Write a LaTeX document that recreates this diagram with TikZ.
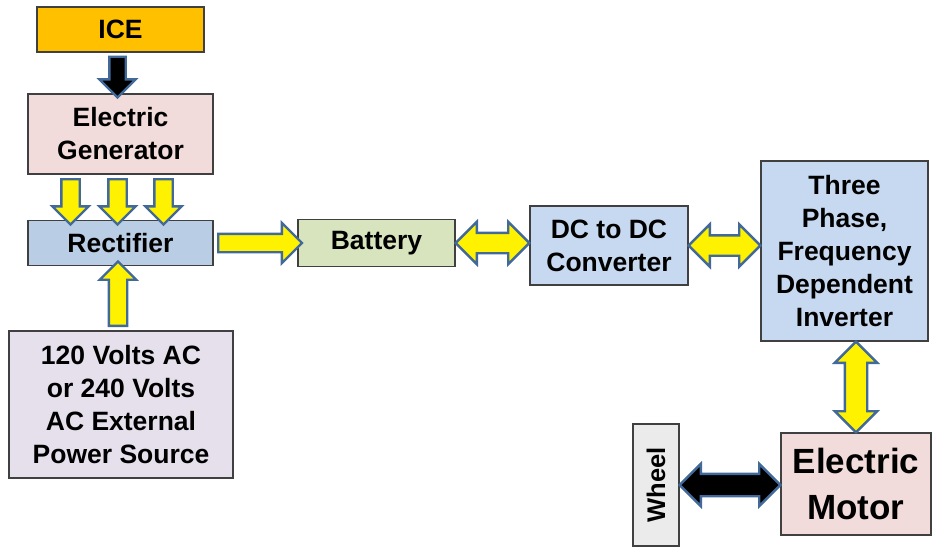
\documentclass[tikz,border=0pt]{standalone}
\usepackage{fontspec}
\setmainfont{Liberation Sans}
\usepackage{graphicx}
\usepackage{tikz}
\usetikzlibrary{shapes.arrows, calc}

\definecolor{icefill}{HTML}{FFC000}
\definecolor{pinkfill}{HTML}{F2DCDB}
\definecolor{bluefill}{HTML}{B9CDE5}
\definecolor{lightblue}{HTML}{C6D9F1}
\definecolor{greenfill}{HTML}{D7E4BD}
\definecolor{lilacfill}{HTML}{E6E0EC}
\definecolor{arrowedge}{HTML}{41699A}

\tikzset{
  box/.style={draw=black!75, line width=1.2pt, align=center, inner sep=0pt,
    font=\bfseries\fontsize{26.5}{33}\selectfont},
  yarrow/.style={single arrow, draw=arrowedge, fill=yellow, line width=2.4pt,
    inner xsep=0pt, inner ysep=8pt, minimum width=0pt, single arrow head extend=9pt},
  ydarrow/.style={double arrow, draw=arrowedge, fill=yellow, line width=2.4pt,
    inner xsep=0pt, inner ysep=9pt, minimum width=0pt, double arrow head extend=11pt},
}

% block arrow laid between two points: style, from, to
\newcommand{\blockarrow}[3]{%
  \path let \p1=(#2), \p2=(#3), \n1={veclen(\x2-\x1,\y2-\y1)} in
    (\p1) -- (\p2) node[#1, midway, sloped, allow upside down, minimum height=\n1] {};}

\begin{document}
\begin{tikzpicture}[x=1pt, y=-1pt]
\useasboundingbox (0,0) rectangle (933,546);

% left column: engine, generator, rectifier, external source
\node[box, fill=icefill, minimum width=167pt, minimum height=45pt] (ice) at (120.5,29.5) {ICE};
\node[box, fill=pinkfill, minimum width=185pt, minimum height=80pt] (gen) at (120.5,134) {Electric\\Generator};
\node[box, fill=bluefill, minimum width=185pt, minimum height=45pt] (rect) at (120.5,243) {Rectifier};
\node[box, fill=lilacfill, minimum width=224pt, minimum height=147pt] (ext) at (121,404.5) {120 Volts AC\\or 240 Volts\\AC External\\Power Source};

% middle row: battery and converter
\node[box, fill=greenfill, minimum width=157pt, minimum height=47pt] (batt) at (376.5,243) {Battery};
\node[box, fill=lightblue, minimum width=158pt, minimum height=79pt] (dcdc) at (609,245.5) {DC to DC\\Converter};

% right column: inverter, motor, wheel
\node[box, fill=lightblue, minimum width=167pt, minimum height=180pt] (inv) at (844.5,251) {Three\\Phase,\\Frequency\\Dependent\\Inverter};
\node[box, fill=pinkfill, minimum width=150pt, minimum height=102pt,
  font=\bfseries\fontsize{35}{46}\selectfont] (motor) at (856,484) {Electric\\Motor};
\node[box, fill=black!8, minimum width=46pt, minimum height=122pt,
  font=\bfseries\fontsize{25.5}{30}\selectfont] (wheel) at (656,485) {\rotatebox{90}{Wheel}};

% mechanical links (black)
\blockarrow{yarrow, fill=black, inner ysep=7pt, single arrow head extend=10pt}{[xshift=-3pt]ice.south}{[xshift=-3pt]gen.north}
\blockarrow{ydarrow, fill=black, inner ysep=10pt, double arrow head extend=10pt}{wheel.east}{wheel.east -| motor.west}

% electrical links (yellow)
\foreach \dx in {-50,-3,43}{
  \blockarrow{yarrow}{[xshift=\dx pt]gen.south}{[xshift=\dx pt]rect.north}
}
\blockarrow{yarrow}{[xshift=-3pt]ext.north}{[xshift=-3pt]ext.north |- rect.south}
\blockarrow{yarrow, single arrow head extend=11pt}{rect.east}{batt.west}
\blockarrow{ydarrow}{batt.east}{batt.east -| dcdc.west}
\blockarrow{ydarrow}{dcdc.east}{dcdc.east -| inv.west}
\blockarrow{ydarrow, inner ysep=10pt, double arrow head extend=10pt}{motor.north |- inv.south}{motor.north}

\end{tikzpicture}
\end{document}
